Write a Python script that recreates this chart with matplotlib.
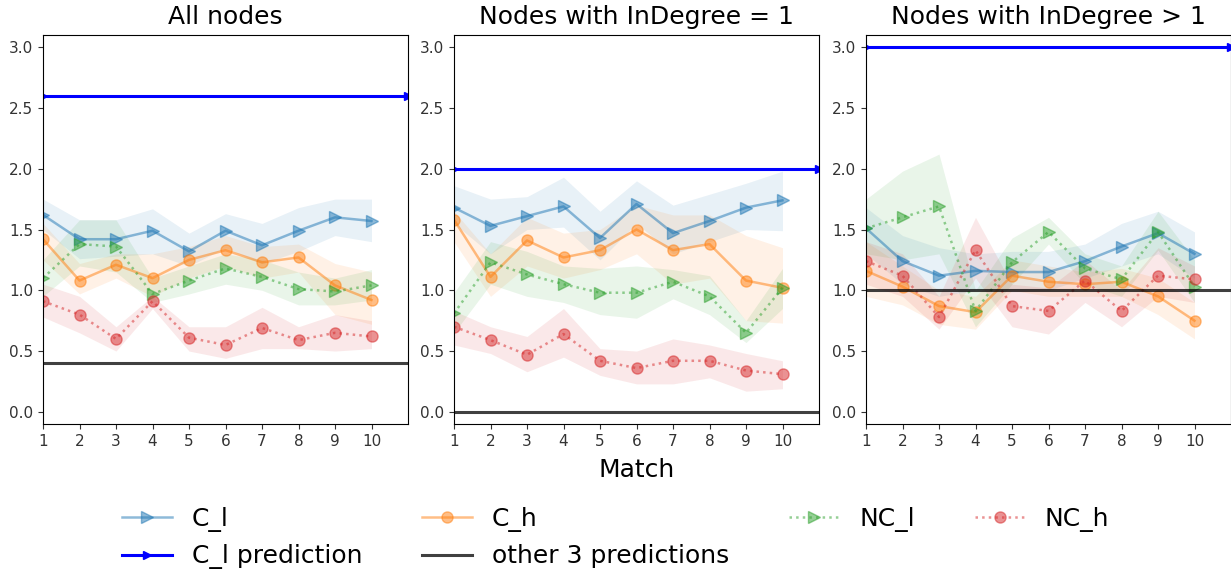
import matplotlib
matplotlib.use("Agg")
import matplotlib.pyplot as plt
import numpy as np

matches = [1, 2, 3, 4, 5, 6, 7, 8, 9, 10]
xticks = [1, 2, 3, 4, 5, 6, 7, 8, 9, 10]
yticks = [0.0, 0.5, 1.0, 1.5, 2.0, 2.5, 3.0]
titles = ["All nodes", "Nodes with InDegree = 1", "Nodes with InDegree > 1"]
series_names = ["C_l", "C_h", "NC_l", "NC_h"]

# ---- Panel 1: All nodes ----
all_Cl = [1.62, 1.42, 1.42, 1.49, 1.32, 1.49, 1.37, 1.49, 1.60, 1.57]
all_Cl_hi = [1.75, 1.58, 1.58, 1.67, 1.47, 1.63, 1.55, 1.68, 1.75, 1.75]
all_Cl_lo = [1.50, 1.26, 1.28, 1.30, 1.20, 1.35, 1.22, 1.32, 1.45, 1.40]
all_Ch = [1.42, 1.08, 1.21, 1.10, 1.25, 1.33, 1.23, 1.27, 1.04, 0.92]
all_Ch_hi = [1.55, 1.22, 1.30, 1.30, 1.36, 1.45, 1.36, 1.38, 1.22, 1.15]
all_Ch_lo = [1.25, 0.97, 1.10, 0.95, 1.10, 1.20, 1.10, 1.15, 0.80, 0.72]
all_NCl = [1.10, 1.38, 1.36, 0.97, 1.08, 1.18, 1.11, 1.01, 0.99, 1.04]
all_NCl_hi = [1.25, 1.58, 1.58, 1.10, 1.20, 1.30, 1.25, 1.15, 1.10, 1.17]
all_NCl_lo = [0.95, 1.20, 1.15, 0.90, 0.97, 1.05, 1.00, 0.88, 0.88, 0.92]
all_NCh = [0.91, 0.80, 0.60, 0.91, 0.61, 0.55, 0.69, 0.59, 0.65, 0.62]
all_NCh_hi = [1.05, 0.95, 0.70, 0.95, 0.70, 0.70, 0.86, 0.70, 0.80, 0.75]
all_NCh_lo = [0.78, 0.65, 0.50, 0.85, 0.50, 0.44, 0.52, 0.52, 0.50, 0.52]

# ---- Panel 2: InDegree = 1 ----
in1_Cl = [1.68, 1.53, 1.61, 1.69, 1.43, 1.71, 1.47, 1.57, 1.68, 1.74]
in1_Cl_hi = [1.86, 1.75, 1.77, 1.93, 1.65, 1.90, 1.70, 1.79, 1.88, 1.98]
in1_Cl_lo = [1.55, 1.30, 1.50, 1.52, 1.25, 1.55, 1.30, 1.40, 1.50, 1.49]
in1_Ch = [1.58, 1.11, 1.41, 1.27, 1.33, 1.50, 1.33, 1.38, 1.08, 1.02]
in1_Ch_hi = [1.65, 1.30, 1.60, 1.47, 1.50, 1.70, 1.62, 1.62, 1.45, 1.35]
in1_Ch_lo = [1.40, 0.95, 1.20, 1.10, 1.17, 1.30, 1.05, 1.10, 0.75, 0.73]
in1_NCl = [0.81, 1.23, 1.13, 1.05, 0.98, 0.98, 1.07, 0.95, 0.65, 1.02]
in1_NCl_hi = [0.98, 1.40, 1.32, 1.20, 1.18, 1.20, 1.17, 1.12, 0.75, 1.18]
in1_NCl_lo = [0.65, 1.05, 0.95, 0.90, 0.80, 0.77, 0.93, 0.80, 0.57, 0.85]
in1_NCh = [0.70, 0.59, 0.47, 0.64, 0.42, 0.36, 0.42, 0.42, 0.34, 0.31]
in1_NCh_hi = [0.83, 0.70, 0.62, 0.85, 0.52, 0.50, 0.60, 0.55, 0.48, 0.42]
in1_NCh_lo = [0.55, 0.48, 0.33, 0.45, 0.30, 0.23, 0.23, 0.28, 0.17, 0.19]

# ---- Panel 3: InDegree > 1 ----
gt1_Cl = [1.51, 1.24, 1.12, 1.16, 1.15, 1.15, 1.24, 1.36, 1.47, 1.30]
gt1_Cl_hi = [1.68, 1.45, 1.35, 1.30, 1.32, 1.32, 1.38, 1.55, 1.65, 1.48]
gt1_Cl_lo = [1.30, 1.05, 0.95, 1.00, 1.00, 1.00, 1.10, 1.20, 1.30, 1.10]
gt1_Ch = [1.16, 1.03, 0.87, 0.82, 1.12, 1.07, 1.05, 1.07, 0.95, 0.75]
gt1_Ch_hi = [1.40, 1.20, 1.00, 0.95, 1.25, 1.20, 1.15, 1.18, 1.10, 0.90]
gt1_Ch_lo = [0.95, 0.88, 0.72, 0.68, 1.00, 0.95, 0.95, 0.95, 0.80, 0.60]
gt1_NCl = [1.51, 1.60, 1.69, 0.83, 1.23, 1.48, 1.18, 1.09, 1.48, 1.03]
gt1_NCl_hi = [1.75, 1.98, 2.12, 1.00, 1.43, 1.60, 1.30, 1.20, 1.65, 1.25]
gt1_NCl_lo = [1.30, 1.25, 1.30, 0.70, 1.05, 1.38, 1.05, 0.95, 1.33, 0.90]
gt1_NCh = [1.24, 1.12, 0.78, 1.33, 0.87, 0.83, 1.08, 0.83, 1.12, 1.09]
gt1_NCh_hi = [1.40, 1.30, 0.95, 1.60, 1.05, 1.02, 1.25, 1.00, 1.35, 1.20]
gt1_NCh_lo = [1.05, 0.95, 0.68, 1.10, 0.70, 0.64, 0.90, 0.70, 0.95, 0.90]

# predictions per panel
Cl_prediction = [2.6, 2.0, 3.0]
other_prediction = [0.4, 0.0, 1.0]
pred_x = [1, 11]

panels = [
    [(all_Cl, all_Cl_lo, all_Cl_hi), (all_Ch, all_Ch_lo, all_Ch_hi),
     (all_NCl, all_NCl_lo, all_NCl_hi), (all_NCh, all_NCh_lo, all_NCh_hi)],
    [(in1_Cl, in1_Cl_lo, in1_Cl_hi), (in1_Ch, in1_Ch_lo, in1_Ch_hi),
     (in1_NCl, in1_NCl_lo, in1_NCl_hi), (in1_NCh, in1_NCh_lo, in1_NCh_hi)],
    [(gt1_Cl, gt1_Cl_lo, gt1_Cl_hi), (gt1_Ch, gt1_Ch_lo, gt1_Ch_hi),
     (gt1_NCl, gt1_NCl_lo, gt1_NCl_hi), (gt1_NCh, gt1_NCh_lo, gt1_NCh_hi)],
]

colors = ["tab:blue", "tab:orange", "tab:green", "tab:red"]
markers = [">", "o", ">", "o"]
styles = ["-", "-", ":", ":"]

fig = plt.figure(figsize=(12.31, 5.72), dpi=100)
W, H = 1231, 572
lefts = [43, 454, 866]
axw = 365
top, bottom = 35, 424

handles = {}
for i in range(3):
    ax = fig.add_axes([lefts[i] / W, 1 - bottom / H, axw / W, (bottom - top) / H])
    for j, (vals, lo, hi) in enumerate(panels[i]):
        ax.fill_between(matches, lo, hi, color=colors[j], alpha=0.1, linewidth=0)
        ln, = ax.plot(matches, vals, linestyle=styles[j], marker=markers[j],
                      color=colors[j], alpha=0.5, markersize=8, linewidth=1.8,
                      label=series_names[j])
        if i == 0:
            handles[series_names[j]] = ln
    p1, = ax.plot(pred_x, [Cl_prediction[i]] * 2, color="blue", marker=">",
                  markersize=6, linewidth=2.2, label="C_l prediction")
    p2, = ax.plot(pred_x, [other_prediction[i]] * 2, color="black", alpha=0.75,
                  linewidth=2.2, label="other 3 predictions")
    if i == 0:
        handles["C_l prediction"] = p1
        handles["other 3 predictions"] = p2
    ax.set_xlim(1, 11)
    ax.set_ylim(-0.1, 3.1)
    ax.set_xticks(xticks)
    ax.set_yticks(yticks)
    ax.tick_params(labelsize=11, colors="#333333")
    ax.set_title(titles[i], fontsize=18, pad=8)
    if i == 1:
        ax.set_xlabel("Match", fontsize=18, labelpad=7)

order = ["C_l", "C_l prediction", "C_h", "other 3 predictions", "NC_l", "NC_h"]
fig.legend([handles[k] for k in order], order, loc="upper center",
           bbox_to_anchor=(0.5, 0.153), ncol=4, frameon=False, fontsize=18,
           columnspacing=2.4)

fig.savefig("out.png", dpi=100)
